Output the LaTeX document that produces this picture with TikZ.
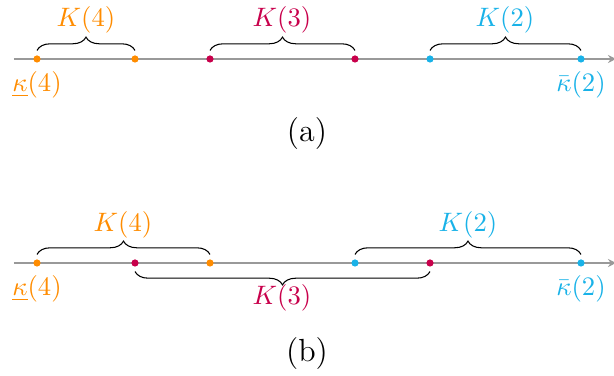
\documentclass[tikz,border=0pt]{standalone}
\usetikzlibrary{decorations.pathreplacing,arrows.meta}
\definecolor{korange}{RGB}{255,140,0}
\definecolor{kpurple}{RGB}{200,0,75}
\definecolor{kcyan}{RGB}{25,178,232}
\begin{document}
\begin{tikzpicture}[x=0.01319cm,y=-0.01319cm,
  axisline/.style={draw=black!40,line width=0.9pt,-{Stealth[length=3pt,width=3pt]}},
  pt/.style={circle,fill=#1,inner sep=0pt,minimum size=2.7pt},
  bracetop/.style={decorate,decoration={brace,amplitude=5pt,raise=3.2pt},thin},
  bracebot/.style={decorate,decoration={brace,amplitude=5pt,raise=3.2pt,mirror},thin},
  lab/.style={inner sep=1pt},
  captext/.style={font=\large}]
\useasboundingbox (0,0) rectangle (614,376);
% (a)
\coordinate (as) at (14,59);
\coordinate (ae) at (616,59);
\draw[axisline] (as) -- (ae);
\node[pt=korange] (a1) at (37,59) {};
\node[pt=korange] (a2) at (135,59) {};
\node[pt=kpurple] (a3) at (210,59) {};
\node[pt=kpurple] (a4) at (355,59) {};
\node[pt=kcyan] (a5) at (430,59) {};
\node[pt=kcyan] (a6) at (581,59) {};
\draw[bracetop] (a1.center) -- (a2.center);
\draw[bracetop] (a3.center) -- (a4.center);
\draw[bracetop] (a5.center) -- (a6.center);
\node[lab,text=korange] (ka4) at (86,20) {$K(4)$};
\node[lab,text=kpurple] (ka3) at (282,20) {$K(3)$};
\node[lab,text=kcyan] (ka2) at (505,20) {$K(2)$};
\node[lab,text=korange] (la) at (37,85) {$\underline{\kappa}(4)$};
\node[lab,text=kcyan] (ra) at (581,85) {$\bar{\kappa}(2)$};
\node[captext] (capa) at (307,134) {(a)};
% (b)
\coordinate (bs) at (14,263);
\coordinate (be) at (616,263);
\draw[axisline] (bs) -- (be);
\node[pt=korange] (b1) at (37,263) {};
\node[pt=kpurple] (b2) at (135,263) {};
\node[pt=korange] (b3) at (210,263) {};
\node[pt=kcyan] (b4) at (355,263) {};
\node[pt=kpurple] (b5) at (430,263) {};
\node[pt=kcyan] (b6) at (581,263) {};
\draw[bracetop] (b1.center) -- (b3.center);
\draw[bracebot] (b2.center) -- (b5.center);
\draw[bracetop] (b4.center) -- (b6.center);
\node[lab,text=korange] (kb4) at (123,225) {$K(4)$};
\node[lab,text=kpurple] (kb3) at (282,298) {$K(3)$};
\node[lab,text=kcyan] (kb2) at (468,225) {$K(2)$};
\node[lab,text=korange] (lb) at (37,289) {$\underline{\kappa}(4)$};
\node[lab,text=kcyan] (rb) at (581,289) {$\bar{\kappa}(2)$};
\node[captext] (capb) at (307,354) {(b)};
\end{tikzpicture}
\end{document}
